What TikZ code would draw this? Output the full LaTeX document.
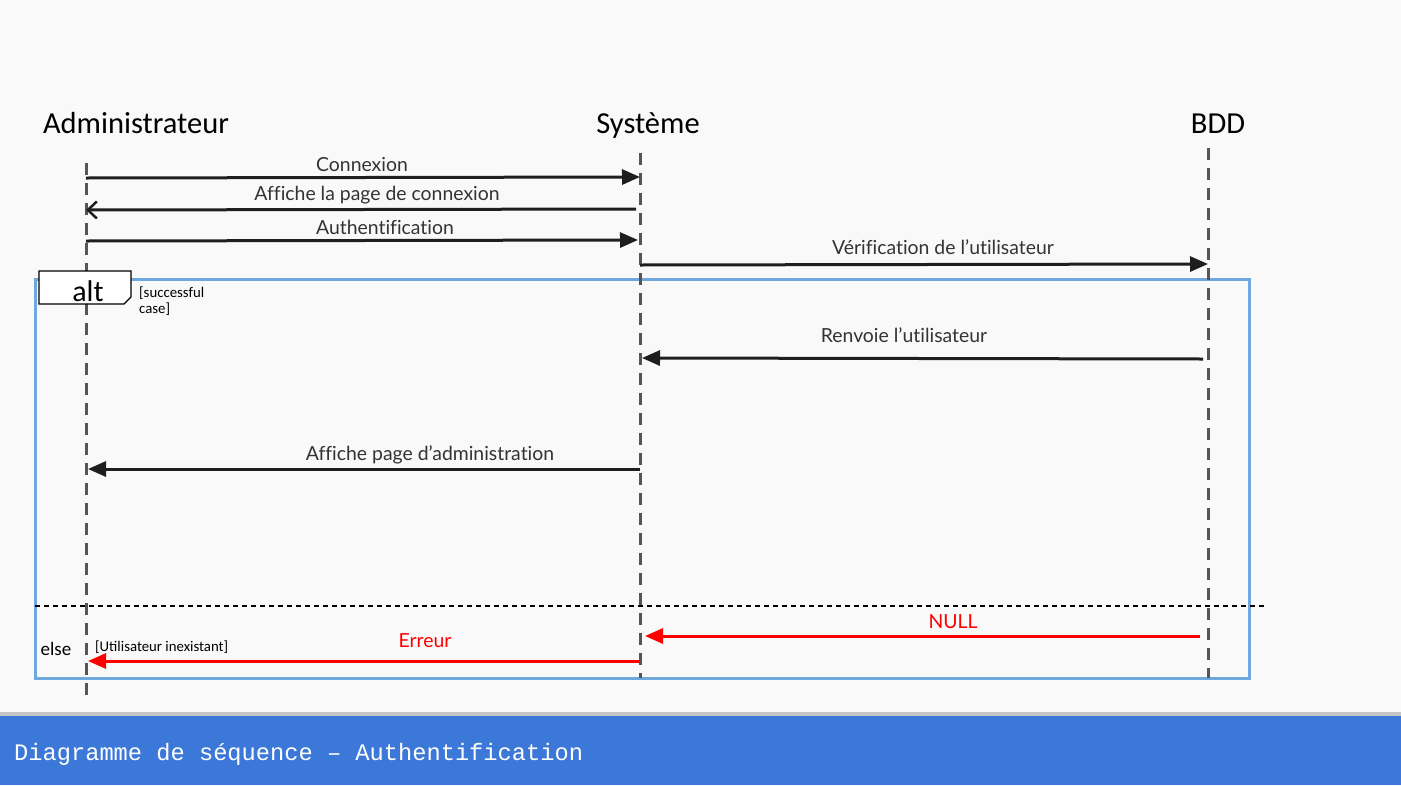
\documentclass[tikz,border=0pt]{standalone}
\usepackage{fontspec}
\setmainfont{Lato}[Ligatures={NoCommon}]
\newfontfamily\headfont{Carlito}
\newfontfamily\titlefont{Liberation Mono}
\usetikzlibrary{arrows.meta}
\definecolor{pagebg}{HTML}{F9F9F9}
\definecolor{band}{HTML}{3C78D8}
\definecolor{frameblue}{HTML}{6FA8DC}
\definecolor{lifegray}{HTML}{555555}
\definecolor{msgblack}{HTML}{1E1E1E}
\definecolor{msgtext}{HTML}{333333}
\tikzset{
  lifeline/.style={draw=lifegray, line width=3pt, dash pattern=on 12pt off 8pt},
  msg/.style={draw=msgblack, line width=3pt, -{Triangle[length=18pt,width=15pt]}},
  msgopen/.style={draw=msgblack, line width=3pt, -{Straight Barb[length=9pt,width=17pt,line width=2.5pt]}},
  errmsg/.style={draw=red, line width=3pt, -{Triangle[length=18pt,width=15pt]}},
  msglabel/.style={font=\fontsize{19.4}{22}\selectfont, text=msgtext, inner sep=0pt},
  errlabel/.style={font=\fontsize{19.4}{22}\selectfont, text=red, inner sep=0pt},
  header/.style={font=\headfont\fontsize{30.5}{34}\selectfont, inner sep=0pt, anchor=base},
  small/.style={font=\headfont\fontsize{14.8}{16}\selectfont, inner sep=0pt, align=left}
}
\begin{document}
\begin{tikzpicture}[x=1pt, y=-1pt]
  % page and footer band
  \fill[pagebg] (0,0) rectangle (1401,716);
  \fill[gray!45] (0,712) rectangle (1401,716);
  \fill[band] (0,716) rectangle (1401,785);
  \useasboundingbox (0,0) rectangle (1401,785);

  % participants
  \node[header] (admin) at (136,133) {Administrateur};
  \node[header] (sys) at (648,133) {Système};
  \node[header] (bdd) at (1218,133) {BDD};

  % lifelines
  \coordinate (a0) at (86,163);  \coordinate (a1) at (86,695);
  \coordinate (s0) at (640,153); \coordinate (s1) at (640,678);
  \coordinate (b0) at (1208,148); \coordinate (b1) at (1208,678);

  % alt frame
  \draw[frameblue, line width=3pt] (35,279) rectangle (1249,678);
  \draw[black, line width=1.2pt, dash pattern=on 5pt off 4pt] (35,606) -- (1265,606);

  \draw[lifeline] (a0) -- (a1);
  \draw[lifeline] (s0) -- (s1);
  \draw[lifeline] (b0) -- (b1);

  % alt tag
  \draw[fill=white, line width=1.4pt] (39,271) -- (131,271) -- (131,297) -- (124,304) -- (39,304) -- cycle;
  \node[font=\headfont\fontsize{30}{32}\selectfont, inner sep=0pt] (alt) at (88,291) {alt};
  \node[small, anchor=north west] (guard1) at (139,287) {[successful\\case]};
  \node[font=\headfont\fontsize{19}{21}\selectfont, inner sep=0pt] (else) at (56,649) {else};
  \node[small, anchor=west] (guard2) at (95,647) {[Utilisateur inexistant]};

  % message endpoints
  \coordinate (m1a) at (86,178);  \coordinate (m1b) at (640,177);
  \coordinate (m2a) at (636,209); \coordinate (m2b) at (86,210);
  \coordinate (m3a) at (86,241);  \coordinate (m3b) at (638,240);
  \coordinate (m4a) at (640,265); \coordinate (m4b) at (1208,264);
  \coordinate (m5a) at (1203,359); \coordinate (m5b) at (642,358);
  \coordinate (m6a) at (640,469); \coordinate (m6b) at (88,469);
  \coordinate (m7a) at (1200,636); \coordinate (m7b) at (645,636);
  \coordinate (m8a) at (640,661); \coordinate (m8b) at (88,661);

  % messages
  \draw[msg] (m1a) -- (m1b);
  \node[msglabel] (l1) at (362,164) {Connexion};
  \draw[msgopen] (m2a) -- (m2b);
  \node[msglabel] (l2) at (377,195) {Affiche la page de connexion};
  \draw[msg] (m3a) -- (m3b);
  \node[msglabel] (l3) at (385,227) {Authentification};
  \draw[msg] (m4a) -- (m4b);
  \node[msglabel] (l4) at (943,247) {Vérification de l’utilisateur};
  \draw[msg] (m5a) -- (m5b);
  \node[msglabel] (l5) at (904,335) {Renvoie l’utilisateur};
  \draw[msg] (m6a) -- (m6b);
  \node[msglabel] (l6) at (430,455) {Affiche page d’administration};
  \draw[errmsg] (m7a) -- (m7b);
  \node[errlabel] (l7) at (953,622) {NULL};
  \draw[errmsg] (m8a) -- (m8b);
  \node[errlabel] (l8) at (425,641) {Erreur};

  % footer title
  \node[font=\titlefont\fontsize{23.7}{26}\selectfont, text=white, anchor=west, inner sep=0pt] (title) at (14,754) {Diagramme de séquence – Authentification};
\end{tikzpicture}
\end{document}
